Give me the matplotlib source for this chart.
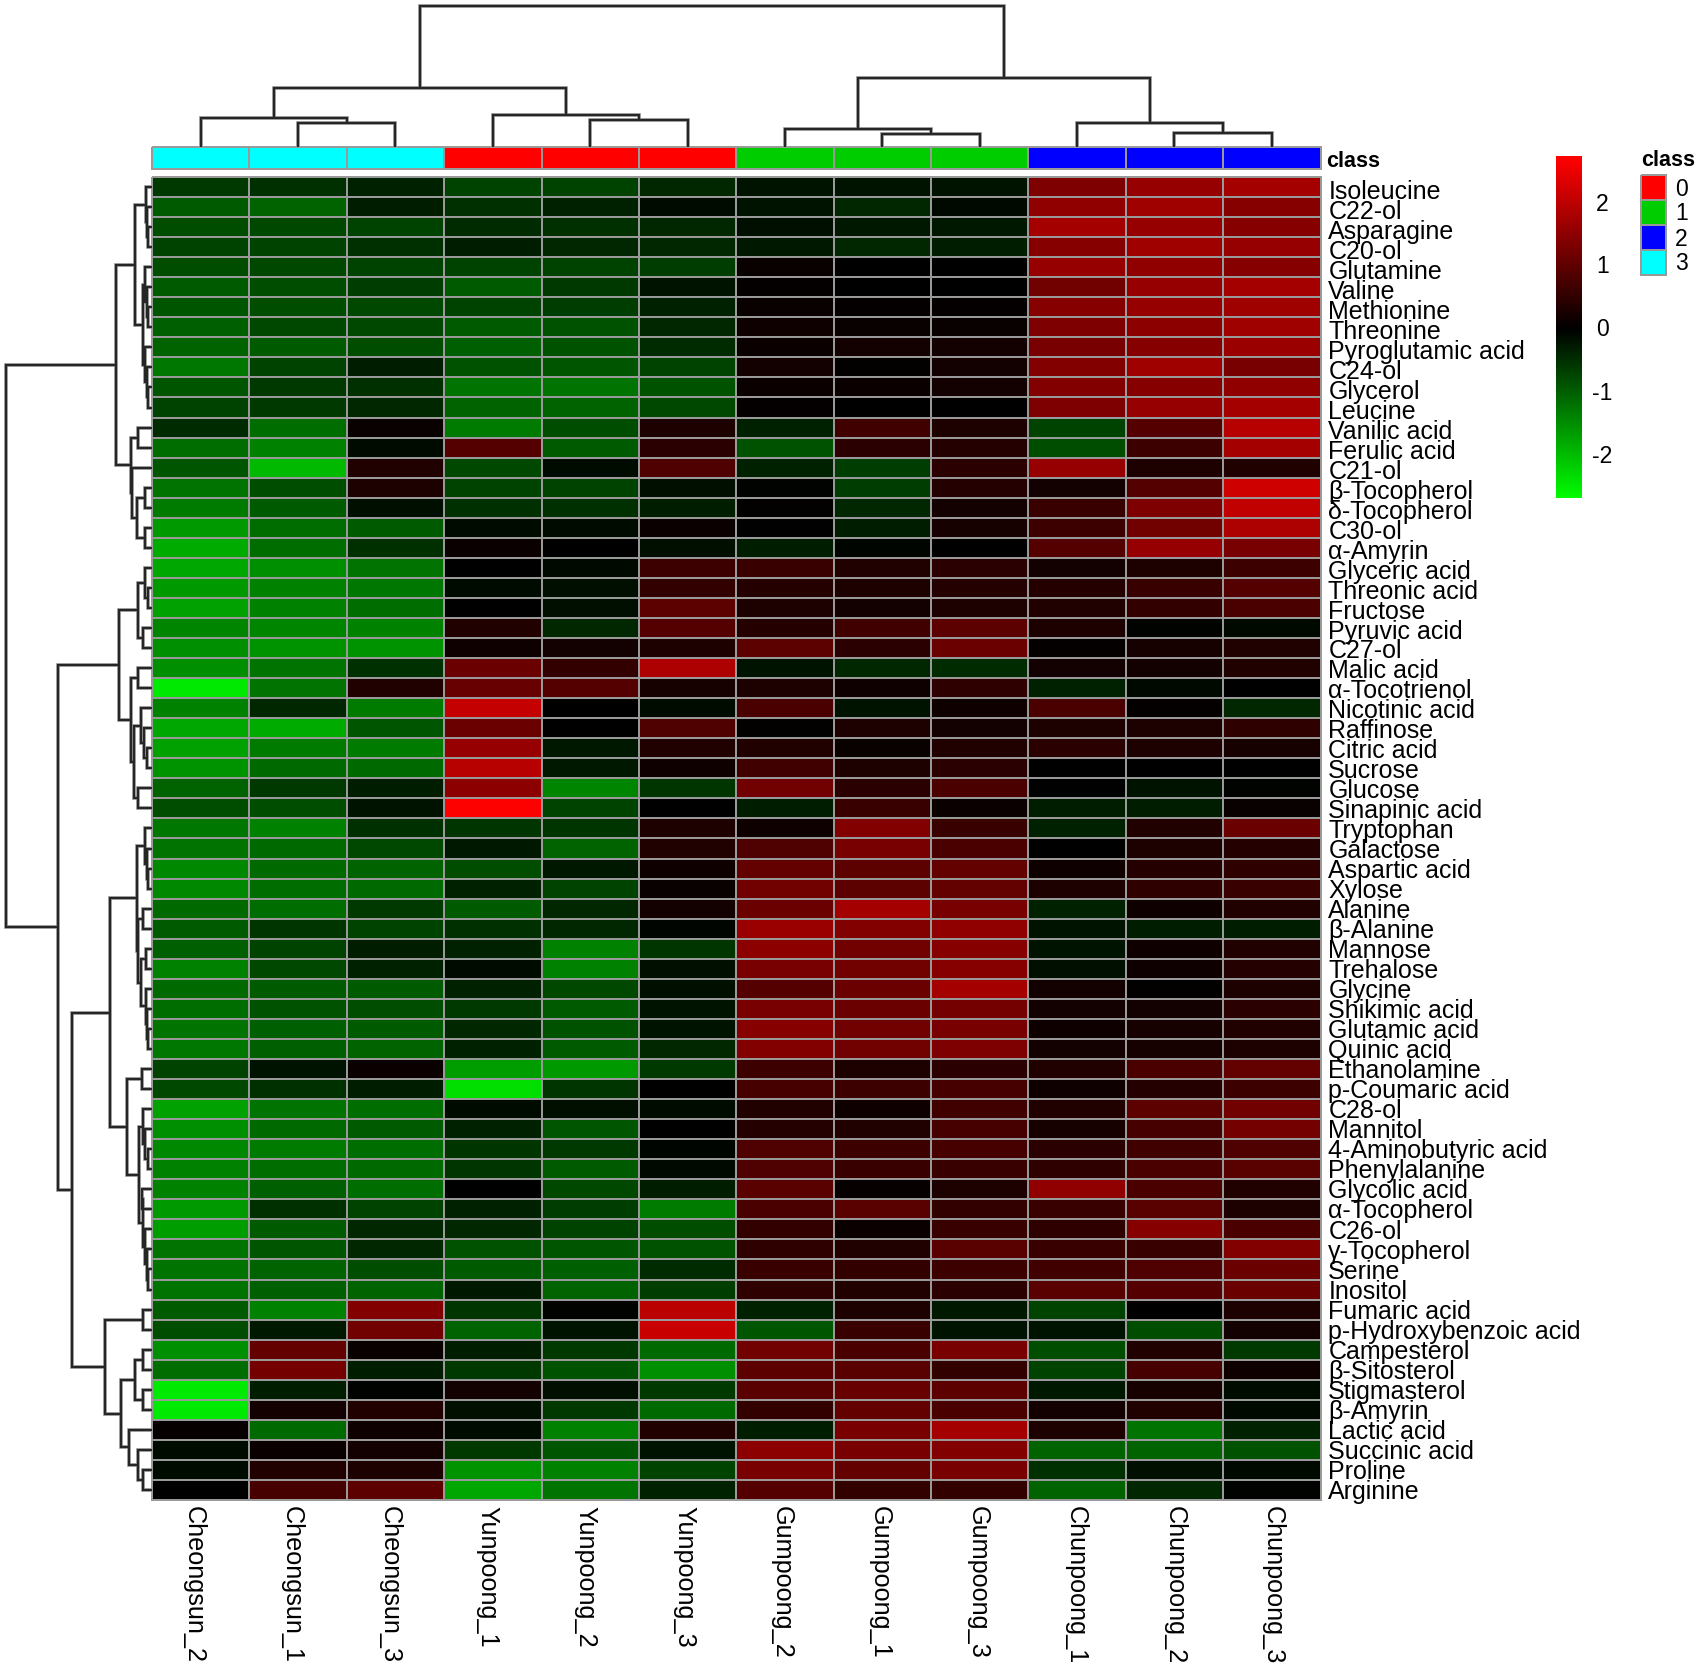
import numpy as np
import matplotlib
matplotlib.use("Agg")
import matplotlib.pyplot as plt
from matplotlib.colors import LinearSegmentedColormap, ListedColormap, TwoSlopeNorm

plt.rcParams['font.family'] = ['Liberation Sans', 'DejaVu Sans']
plt.rcParams['axes.unicode_minus'] = False

samples = ["Cheongsun_2", "Cheongsun_1", "Cheongsun_3", "Yunpoong_1", "Yunpoong_2", "Yunpoong_3",
           "Gumpoong_2", "Gumpoong_1", "Gumpoong_3", "Chunpoong_1", "Chunpoong_2", "Chunpoong_3"]
sample_class = [3, 3, 3, 0, 0, 0, 1, 1, 1, 2, 2, 2]
class_colors = ["#FF0000", "#00CD00", "#0000FF", "#00FFFF"]
class_names = ["0", "1", "2", "3"]

metabolites = ["Isoleucine", "C22-ol", "Asparagine", "C20-ol", "Glutamine", "Valine", "Methionine", "Threonine",
    "Pyroglutamic acid", "C24-ol", "Glycerol", "Leucine", "Vanilic acid", "Ferulic acid", "C21-ol", "β-Tocopherol",
    "δ-Tocopherol", "C30-ol", "α-Amyrin", "Glyceric acid", "Threonic acid", "Fructose", "Pyruvic acid", "C27-ol",
    "Malic acid", "α-Tocotrienol", "Nicotinic acid", "Raffinose", "Citric acid", "Sucrose", "Glucose",
    "Sinapinic acid", "Tryptophan", "Galactose", "Aspartic acid", "Xylose", "Alanine", "β-Alanine", "Mannose",
    "Trehalose", "Glycine", "Shikimic acid", "Glutamic acid", "Quinic acid", "Ethanolamine", "p-Coumaric acid",
    "C28-ol", "Mannitol", "4-Aminobutyric acid", "Phenylalanine", "Glycolic acid", "α-Tocopherol", "C26-ol",
    "γ-Tocopherol", "Serine", "Inositol", "Fumaric acid", "p-Hydroxybenzoic acid", "Campesterol", "β-Sitosterol",
    "Stigmasterol", "β-Amyrin", "Lactic acid", "Succinic acid", "Proline", "Arginine"]

zscores = [
 [-0.6,-0.5,-0.35,-0.7,-0.7,-0.4,-0.2,-0.2,-0.2,1.35,1.6,1.75],
 [-0.95,-1.05,-0.3,-0.5,-0.35,-0.12,-0.2,-0.4,-0.1,1.55,1.7,1.45],
 [-0.8,-0.75,-0.7,-0.45,-0.5,-0.4,-0.15,-0.25,-0.25,1.75,1.6,1.45],
 [-0.7,-0.7,-0.5,-0.3,-0.4,-0.4,-0.25,-0.4,-0.3,1.45,1.7,1.6],
 [-0.8,-0.75,-0.7,-0.7,-0.7,-0.65,0.1,0,0,1.6,1.55,1.45],
 [-0.95,-0.8,-0.65,-0.95,-0.6,-0.2,0.05,0,0,1.2,1.6,1.75],
 [-0.9,-0.8,-0.75,-0.7,-0.65,-0.35,0.1,0.05,0.05,1.45,1.6,1.7],
 [-1.0,-0.75,-0.75,-0.95,-0.85,-0.4,0.15,0.1,0.1,1.35,1.5,1.7],
 [-1.05,-0.95,-0.8,-1.0,-0.85,-0.45,0.12,0.2,0.2,1.3,1.45,1.65],
 [-1.25,-0.7,-0.3,-0.85,-0.9,-0.7,0.2,0.03,0.2,1.4,1.7,1.3],
 [-0.9,-0.6,-0.5,-1.2,-1.2,-0.85,0.12,0.12,0.2,1.4,1.45,1.55],
 [-0.7,-0.6,-0.4,-1.05,-1.05,-0.75,0.05,0,0,1.35,1.6,1.75],
 [-0.45,-1.15,0.1,-1.3,-0.8,0.3,-0.35,0.7,0.3,-0.7,0.9,1.95],
 [-1.15,-1.35,-0.12,0.9,-0.95,0.45,-0.85,0.45,0.4,-0.8,0.65,1.75],
 [-0.9,-1.95,0.35,-0.75,-0.12,0.85,-0.35,-0.65,0.45,1.6,0.3,0.35],
 [-1.2,-0.8,0.3,-0.7,-0.7,-0.15,-0.03,-0.65,0.4,0.2,0.9,2.2],
 [-1.3,-0.95,-0.15,-0.5,-0.5,-0.3,0.03,-0.4,0.2,0.6,1.35,2.05],
 [-1.6,-1.15,-0.95,-0.12,-0.12,0.12,-0.02,-0.3,0.25,0.65,1.2,1.85],
 [-1.8,-1.15,-0.5,0.12,0,-0.15,-0.3,-0.05,0,0.9,1.6,1.3],
 [-1.75,-1.5,-1.2,0,-0.1,0.65,0.6,0.35,0.45,0.2,0.3,0.65],
 [-1.6,-1.35,-1.25,-0.12,-0.15,0.55,0.4,0.3,0.4,0.4,0.6,0.9],
 [-1.7,-1.35,-1.15,0,-0.15,1.0,0.3,0.2,0.3,0.35,0.55,0.8],
 [-1.4,-1.4,-1.35,0.35,-0.4,0.9,0.4,0.7,1.0,0.3,-0.03,-0.1],
 [-1.5,-1.55,-1.55,0.15,0.2,0.3,1.0,0.45,1.15,0.05,0.25,0.35],
 [-1.5,-1.2,-0.5,1.15,0.55,1.85,-0.2,-0.4,-0.45,0.2,0.2,0.35],
 [-2.45,-1.2,0.35,1.1,0.9,0.25,0.3,0.15,0.5,-0.35,-0.1,0],
 [-1.35,-0.4,-1.3,2.1,0,-0.12,0.8,-0.2,0.15,0.8,0.05,-0.4],
 [-1.75,-1.8,-0.9,1.15,0,0.85,0.03,0.3,0.2,0.3,0.3,0.5],
 [-1.7,-1.3,-1.3,1.6,-0.25,0.35,0.35,0.1,0.35,0.45,0.3,0.25],
 [-1.55,-1.1,-1.1,1.95,-0.25,0.15,0.7,0.3,0.45,0,0,0],
 [-1.05,-0.6,-0.3,1.5,-1.4,-0.55,1.2,0.45,0.8,-0.02,-0.2,-0.03],
 [-0.8,-0.8,-0.2,2.7,-0.7,0,-0.3,0.6,0.12,-0.3,-0.3,0.1],
 [-1.25,-1.35,-0.5,-0.55,-0.55,0.3,0.15,1.4,0.6,-0.35,0.35,1.15],
 [-1.2,-1.1,-0.75,-0.25,-1.05,0.35,0.85,1.3,0.8,0.02,0.3,0.4],
 [-1.45,-1.1,-1.05,-0.8,-0.25,0.15,1.05,1.0,1.05,0.15,0.4,0.5],
 [-1.45,-1.15,-1.1,-0.35,-0.7,0.1,1.2,1.0,1.05,0.3,0.5,0.6],
 [-1.1,-1.15,-0.6,-0.95,-0.4,0.2,1.15,1.75,1.3,-0.35,0.15,0.35],
 [-0.95,-0.55,-0.7,-0.5,-0.4,-0.05,1.65,1.4,1.55,-0.2,-0.3,-0.3],
 [-1.0,-0.7,-0.3,-0.35,-1.35,-0.55,1.5,1.2,1.45,-0.2,0.15,0.35],
 [-1.35,-0.75,-0.35,-0.12,-1.35,-0.15,1.3,1.2,1.45,-0.15,0.15,0.4],
 [-1.1,-0.95,-0.95,-0.35,-0.75,-0.15,0.9,1.15,1.75,0.2,0.03,0.3],
 [-1.15,-0.85,-0.8,-0.6,-0.95,-0.2,1.3,1.15,1.25,0.2,0.2,0.45],
 [-1.2,-1.0,-0.95,-0.4,-0.85,-0.2,1.45,1.2,1.3,0.15,0.25,0.35],
 [-1.25,-1.0,-1.05,-0.35,-0.95,-0.4,1.4,1.2,1.35,0.2,0.25,0.3],
 [-0.7,-0.2,0.12,-1.65,-1.6,-0.6,0.65,0.3,0.45,0.35,0.8,1.05],
 [-0.75,-0.5,-0.3,-2.35,-0.55,0,0.75,0.65,0.75,0.15,0.4,0.65],
 [-1.7,-1.2,-1.15,-0.12,-0.15,-0.12,0.35,0.15,0.7,0.35,1.0,1.2],
 [-1.5,-1.1,-0.95,-0.35,-0.9,0,0.4,0.35,0.75,0.25,0.75,1.25],
 [-1.45,-1.3,-1.15,-0.55,-0.6,-0.05,0.85,0.65,0.75,0.45,0.7,0.85],
 [-1.35,-1.15,-1.1,-0.55,-0.95,-0.1,0.85,0.6,0.6,0.5,0.8,0.95],
 [-1.35,-1.0,-1.15,0,-0.75,-0.3,0.95,0.08,0.3,1.55,0.8,0.35],
 [-1.6,-0.5,-0.7,-0.35,-0.65,-1.3,0.8,0.95,0.55,0.6,0.95,0.3],
 [-1.65,-0.95,-0.4,-0.4,-0.7,-0.8,0.55,0.12,0.6,0.5,1.45,0.8],
 [-1.2,-0.9,-0.4,-0.85,-0.9,-0.85,0.5,0.35,0.95,0.6,0.6,1.4],
 [-1.2,-1.05,-0.8,-0.95,-1.0,-0.45,0.6,0.55,0.65,0.7,0.85,1.15],
 [-1.2,-1.0,-1.05,-0.25,-1.05,-0.65,0.5,0.35,0.45,0.95,0.9,1.15],
 [-0.95,-1.35,1.4,-0.55,-0.03,2.0,-0.35,0.3,-0.25,-0.7,0,0.3],
 [-0.8,-0.25,1.2,-1.05,-0.2,2.15,-0.9,0.6,-0.2,-0.2,-0.8,0.2],
 [-1.5,1.05,0.1,-0.3,-0.6,-1.1,1.2,0.8,1.3,-0.8,0.35,-0.6],
 [-1.15,1.25,-0.3,-0.6,-0.85,-1.5,1.0,0.95,0.55,-0.7,0.75,0.15],
 [-2.45,-0.3,-0.03,0.2,-0.15,-0.6,0.95,1.1,1.0,-0.25,0.25,-0.12],
 [-2.45,0.2,0.35,-0.15,-0.6,-1.1,0.55,1.05,0.8,0.2,0.35,-0.1],
 [0.08,-1.1,0.15,-0.12,-1.35,0.35,-0.3,1.3,1.75,0.3,-1.2,-0.35],
 [-0.12,0.12,0.2,-0.6,-0.9,-0.2,1.5,1.3,1.4,-1.05,-1.05,-0.85],
 [-0.12,0.35,0.3,-1.55,-1.35,-0.7,1.3,1.05,1.3,-0.5,-0.15,-0.1],
 [0,0.75,1.0,-1.75,-1.2,-0.35,0.9,0.55,0.55,-1.05,-0.4,-0.03],
]

# Clustering trees: (merge height, left, right); a leaf is its position in the heatmap order.
col_tree = (141,
    (59, (29, 0, (24, 1, 2)), (32, 3, (27, 4, 5))),
    (69, (18, 6, (13, 7, 8)), (24, 9, (13.5, 10, 11))))

rows_1_12 = (17,
    (6.3, 0, (5, 1, (3.7, 2, 3))),
    (8.7, (7, 4, (5, 5, (3.7, 6, 7))), (7, 8, (5, 9, (3.7, 10, 11)))))
rows_13_19 = (21.3,
    (14.3, 12, 13),
    (19.7, 14, (14.7, (7.3, 15, 16), (6.7, 17, 18))))
rows_20_24 = (13.7, (7, 19, (4.3, 20, 21)), (8.7, 22, 23))
rows_25_32 = (21.3,
    (13.7, 24, 25),
    (17.7, (11.3, 26, (8, 27, (5.3, 28, 29))), (13.7, 30, 31)))
rows_33_44 = (15.3,
    (7, 32, (5.3, 33, (3.7, 34, 35))),
    (13.7, (8.7, 36, 37), (11.3, (6.3, 38, 39), (6.3, 40, (5, 41, (3.7, 42, 43))))))
rows_47_56 = (12.7,
    (8.7, 46, (7, 47, (4.3, 48, 49))),
    (8.7, (10.3, 50, 51), (7, 52, (5, 53, (3.7, 54, 55)))))
rows_57_66 = (47,
    (8.7, 56, 57),
    (31.3,
     (17, (8.7, 58, 59), (8.7, 60, 61)),
     (22.7, 62, (13.7, 63, (8.7, 64, 65)))))
row_tree = (146,
    (36, rows_1_12, rows_13_19),
    (93.7,
     (33, rows_20_24, rows_25_32),
     (80.3,
      (42, rows_33_44, (25.3, (10.3, 44, 45), rows_47_56)),
      rows_57_66)))

W, H = 1700, 1667
HM_L, HM_R, HM_T, HM_B = 152, 1320.5, 177, 1500
AN_T, AN_B = 147, 169
GRID = "#999999"
LINE = "#262626"
GRID_LW = 1.35
CELL_W = (HM_R - HM_L) / len(samples)
CELL_H = (HM_B - HM_T) / len(metabolites)

def px_axes(l, t, r, b):
    ax = fig.add_axes([l / W, 1 - b / H, (r - l) / W, (b - t) / H])
    ax.set_axis_off()
    return ax

def collect(node, segs):
    """Return leaf-axis position of node; append the three strokes of each merge."""
    if not isinstance(node, tuple):
        return node + 0.5, 0
    h, a, b = node
    pa, ha = collect(a, segs)
    pb, hb = collect(b, segs)
    segs.append(((pa, ha), (pa, h), (pb, h), (pb, hb)))
    return (pa + pb) / 2, h

fig = plt.figure(figsize=(W / 100, H / 100), dpi=100, facecolor="white")

# heatmap
cmap = LinearSegmentedColormap.from_list("gkr", ["#00FF00", "#000000", "#FF0000"], N=256)
norm = TwoSlopeNorm(vcenter=0, vmin=-2.69, vmax=2.73)
ax = px_axes(HM_L, HM_T, HM_R, HM_B)
mesh = ax.pcolormesh(np.array(zscores), cmap=cmap, norm=norm, edgecolors=GRID, linewidth=GRID_LW, clip_on=False)
ax.set_xlim(0, len(samples))
ax.set_ylim(len(metabolites), 0)
ax.set_axis_on()
for s in ax.spines.values():
    s.set_visible(False)
ax.xaxis.tick_bottom()
ax.yaxis.tick_right()
# label placement drifts slightly against the cell centres in the reference
col_drift = np.interp(np.arange(len(samples)), [0, 11], [-7.0, 0.5]) / CELL_W
row_drift = np.interp(np.arange(len(metabolites)), [0, 36, 65], [5.4, 2.3, 2.0]) / CELL_H
ax.set_xticks(np.arange(len(samples)) + 0.5 + col_drift)
ax.set_xticklabels(samples, rotation=270, fontsize=18.2, ha="center", va="top")
ax.tick_params(axis="x", length=0, pad=4)
ax.set_yticks(np.arange(len(metabolites)) + 0.5 + row_drift)
ax.set_yticklabels(metabolites, fontsize=18, ha="left", va="center")
ax.tick_params(axis="y", length=0, pad=5.6)

# annotation strip
ax_an = px_axes(HM_L, AN_T, HM_R, AN_B)
ax_an.pcolormesh(np.array([sample_class]), cmap=ListedColormap(class_colors), vmin=-0.5, vmax=3.5,
                 edgecolors=GRID, linewidth=GRID_LW, clip_on=False)
ax_an.set_xlim(0, len(samples))
ax_an.set_ylim(1, 0)
fig.text(1326 / W, 1 - 161.5 / H, "class", fontsize=15.5, fontweight="bold", ha="left", va="center")

# dendrograms
ax_top = px_axes(HM_L, 0, HM_R, AN_T)
ax_top.set_xlim(0, len(samples))
ax_top.set_ylim(0, AN_T)
segs = []
collect(col_tree, segs)
for color, lw in (("#b5b5b5", 2.8), (LINE, 1.7)):
    for pts in segs:
        xs, ys = zip(*pts)
        ax_top.plot(xs, ys, color=color, lw=lw, solid_joinstyle="miter", solid_capstyle="butt")

ax_left = px_axes(0, HM_T, HM_L, HM_B)
ax_left.set_xlim(HM_L, 0)
ax_left.set_ylim(len(metabolites), 0)
segs = []
collect(row_tree, segs)
for color, lw in (("#b5b5b5", 2.8), (LINE, 1.7)):
    for pts in segs:
        ys, xs = zip(*pts)
        ax_left.plot(xs, ys, color=color, lw=lw, solid_joinstyle="miter", solid_capstyle="butt")

# colour bar
cax = fig.add_axes([1556 / W, 1 - 498 / H, 26 / W, 342 / H])
cb = fig.colorbar(mesh, cax=cax, ticks=[-2, -1, 0, 1, 2])
cb.outline.set_visible(False)
cb.solids.set_edgecolor("face")
cax.tick_params(length=0, pad=14.5, labelsize=16.5)
for t in cax.get_yticklabels():
    t.set_ha("center")

# class legend
ax_lg = px_axes(1641, 175, 1666, 275)
ax_lg.pcolormesh(np.arange(4).reshape(4, 1), cmap=ListedColormap(class_colors), vmin=-0.5, vmax=3.5,
                 edgecolors=GRID, linewidth=GRID_LW, clip_on=False)
ax_lg.set_xlim(0, 1)
ax_lg.set_ylim(4, 0)
for i, name in enumerate(class_names):
    ax_lg.text(1.62, i + 0.56, name, fontsize=16.5, ha="center", va="center")
fig.text(1641 / W, 1 - 161 / H, "class", fontsize=15.5, fontweight="bold", ha="left", va="center")

fig.savefig("out.png", dpi=100, facecolor="white")
